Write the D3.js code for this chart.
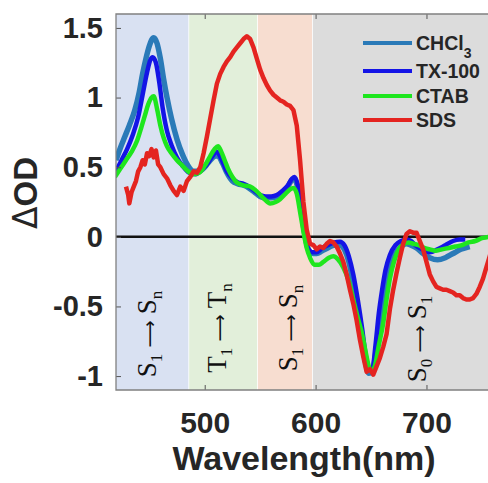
<!DOCTYPE html>
<html>
<head>
<meta charset="utf-8">
<script src="https://cdn.jsdelivr.net/npm/d3@7"></script>
<style>
  body { margin: 0; background: #fff; }
  .tick text { font-family: "Liberation Sans", Arial, sans-serif; font-weight: bold; fill: #262626; }
  .tick line { stroke: #555; }
</style>
</head>
<body>
<div id="chart"></div>
<script>
// values: [wavelength nm, dOD]
const chcl3 = [
  [420, 0.55], [424, 0.64], [428, 0.72], [432, 0.8], [437, 0.91], [441, 1.04], [444, 1.17],
  [447, 1.28], [450, 1.37], [454, 1.43], [457, 1.39], [460, 1.28], [463, 1.13], [466, 1.0],
  [470, 0.85], [475, 0.7], [480, 0.59], [485, 0.51], [490, 0.47], [495, 0.47], [500, 0.5],
  [505, 0.55], [510, 0.58], [512, 0.58], [516, 0.53], [520, 0.46], [525, 0.4], [530, 0.38],
  [535, 0.37], [540, 0.35], [545, 0.32], [550, 0.29], [555, 0.28], [560, 0.28], [565, 0.29],
  [570, 0.32], [575, 0.36], [579, 0.41], [581, 0.41], [584, 0.35], [587, 0.2], [590, 0.03],
  [593, -0.08], [597, -0.12], [601, -0.12], [606, -0.1], [611, -0.08], [617, -0.06], [622, -0.06],
  [626, -0.09], [630, -0.18], [634, -0.34], [638, -0.55], [642, -0.76], [645, -0.9], [648, -0.98],
  [651, -0.97], [654, -0.85], [657, -0.66], [660, -0.48], [664, -0.32], [668, -0.2], [672, -0.12],
  [677, -0.07], [682, -0.05], [686, -0.06], [691, -0.08], [697, -0.12], [703, -0.15], [710, -0.165],
  [717, -0.15], [724, -0.12], [731, -0.09], [739, -0.07]
];

const tx100 = [
  [420, 0.47], [425, 0.55], [430, 0.63], [435, 0.73], [440, 0.86], [444, 1.02], [448, 1.18],
  [451, 1.27], [453, 1.29], [456, 1.25], [459, 1.11], [462, 0.93], [466, 0.76], [470, 0.66],
  [475, 0.57], [480, 0.51], [486, 0.46], [492, 0.45], [497, 0.48], [502, 0.52], [507, 0.58],
  [511, 0.61], [515, 0.56], [520, 0.47], [525, 0.42], [530, 0.39], [535, 0.38], [540, 0.36],
  [545, 0.33], [550, 0.3], [555, 0.29], [560, 0.29], [565, 0.3], [570, 0.33], [575, 0.37],
  [579, 0.42], [581, 0.43], [584, 0.37], [587, 0.22], [590, 0.03], [593, -0.08], [597, -0.11],
  [601, -0.11], [606, -0.08], [611, -0.06], [617, -0.04], [622, -0.035], [626, -0.06], [630, -0.14],
  [634, -0.27], [638, -0.45], [642, -0.66], [645, -0.84], [648, -0.95], [651, -0.96], [654, -0.78],
  [657, -0.55], [660, -0.38], [663, -0.24], [667, -0.13], [672, -0.06], [677, -0.03], [682, -0.02],
  [686, -0.03], [690, -0.06], [696, -0.09], [703, -0.11], [710, -0.09], [717, -0.06], [724, -0.03],
  [730, -0.02], [735, -0.02]
];

const ctab = [
  [419, 0.43], [424, 0.49], [429, 0.55], [434, 0.61], [439, 0.69], [443, 0.79], [446, 0.87],
  [449, 0.95], [452, 1.0], [454, 1.01], [457, 0.92], [460, 0.8], [463, 0.71], [466, 0.65],
  [470, 0.6], [475, 0.55], [480, 0.51], [485, 0.47], [490, 0.45], [495, 0.46], [500, 0.51],
  [505, 0.58], [509, 0.63], [512, 0.65], [515, 0.61], [518, 0.55], [521, 0.49], [525, 0.43],
  [529, 0.39], [535, 0.37], [541, 0.36], [545, 0.34], [549, 0.31], [554, 0.27], [559, 0.24],
  [564, 0.25], [568, 0.27], [573, 0.31], [577, 0.34], [580, 0.35], [583, 0.31], [586, 0.18],
  [589, 0.04], [592, -0.08], [595, -0.15], [599, -0.2], [603, -0.2], [607, -0.18], [612, -0.15],
  [616, -0.14], [620, -0.16], [625, -0.22], [630, -0.32], [634, -0.45], [638, -0.58], [642, -0.7],
  [645, -0.82], [648, -0.93], [651, -0.97], [654, -0.91], [657, -0.78], [661, -0.62], [664, -0.45],
  [667, -0.3], [671, -0.17], [675, -0.09], [680, -0.05], [684, -0.04], [688, -0.05], [693, -0.06],
  [698, -0.08], [703, -0.09], [708, -0.1], [714, -0.09], [720, -0.08], [726, -0.07], [732, -0.06],
  [738, -0.04], [744, -0.03], [750, -0.01], [756, 0.0], [760, 0.01]
];

// SDS trace is noisy, jitter typed as read
const sds = [
  [429, 0.36], [431, 0.3], [432, 0.24], [434, 0.32], [436, 0.36], [438, 0.4], [440, 0.47],
  [442, 0.5], [444, 0.55], [446, 0.52], [448, 0.6], [450, 0.58], [452, 0.63], [454, 0.57],
  [456, 0.62], [458, 0.52], [460, 0.5], [463, 0.45], [466, 0.42], [469, 0.37], [472, 0.33],
  [475, 0.3], [478, 0.36], [481, 0.33], [484, 0.4], [487, 0.43], [490, 0.47], [493, 0.46],
  [496, 0.5], [499, 0.6], [502, 0.72], [505, 0.85], [508, 0.98], [511, 1.1], [514, 1.17],
  [517, 1.22], [520, 1.26], [523, 1.29], [526, 1.33], [529, 1.36], [532, 1.39], [535, 1.42],
  [538, 1.44], [541, 1.42], [544, 1.36], [547, 1.28], [550, 1.2], [553, 1.14], [556, 1.09],
  [559, 1.05], [562, 1.02], [565, 1.0], [568, 0.98], [571, 0.97], [574, 0.95], [577, 0.94],
  [580, 0.91], [583, 0.8], [586, 0.55], [589, 0.25], [592, 0.05], [595, -0.05], [598, -0.06],
  [601, -0.09], [604, -0.07], [607, -0.08], [610, -0.05], [613, -0.03], [616, -0.04], [619, -0.07],
  [622, -0.12], [625, -0.18], [628, -0.27], [631, -0.38], [634, -0.48], [637, -0.6], [640, -0.74],
  [643, -0.86], [646, -0.97], [649, -0.95], [652, -0.99], [655, -0.93], [658, -0.87], [661, -0.79],
  [664, -0.7], [667, -0.52], [670, -0.38], [673, -0.26], [676, -0.15], [679, -0.05], [682, 0.02],
  [685, 0.04], [688, 0.03], [691, 0.03], [694, -0.03], [697, -0.09], [700, -0.18], [703, -0.27],
  [706, -0.32], [709, -0.36], [712, -0.37], [715, -0.38], [718, -0.38], [721, -0.39], [724, -0.4],
  [727, -0.42], [730, -0.42], [733, -0.44], [736, -0.45], [739, -0.45], [742, -0.44], [745, -0.41],
  [748, -0.36], [751, -0.3], [754, -0.22], [757, -0.14], [760, -0.06]
];

const seriesNames = ["CHCl", "TX-100", "CTAB", "SDS"];
const seriesColors = ["#2a7ab8", "#1414e6", "#1ee61e", "#e42420"];

// shaded transition regions
const bandStarts = [420, 486, 548, 597.5];
const bandEnds = [486, 548, 597.5, 760];
const bandColors = ["#d9e1f2", "#e2efda", "#f7ddd0", "#dcdcdc"];
const bandLabels = [["S", "1", "S", "n"], ["T", "1", "T", "n"], ["S", "1", "S", "n"], ["S", "0", "S", "1"]];
const bandLabelX = [156, 226, 297, 426];
const bandLabelY = [334, 328, 328, 339];

const xTicks = [500, 600, 700];
const yTicks = [-1, -0.5, 0, 0.5, 1, 1.5];

const W = 488, H = 483;
const plot = { left: 116, top: 14, right: 493, bottom: 390 };

const x = d3.scaleLinear().domain([420, 760]).range([plot.left, plot.right]);
const y = d3.scaleLinear().domain([-1.1, 1.6]).range([plot.bottom, plot.top]);

const svg = d3.select("#chart").append("svg").attr("width", W).attr("height", H);

svg.append("clipPath").attr("id", "clip")
  .append("rect")
  .attr("x", plot.left).attr("y", plot.top)
  .attr("width", plot.right - plot.left).attr("height", plot.bottom - plot.top);

// Bands
svg.append("g").selectAll("rect")
  .data(bandStarts)
  .enter()
  .append("rect")
  .attr("x", (d) => x(d))
  .attr("y", plot.top)
  .attr("width", (d, i) => x(bandEnds[i]) - x(d) - (i < 3 ? 0.8 : 0))
  .attr("height", plot.bottom - plot.top)
  .attr("fill", (d, i) => bandColors[i]);

// Band labels, rotated
const labels = svg.append("g")
  .selectAll("text")
  .data(bandLabels)
  .enter()
  .append("text")
  .attr("transform", (d, i) => `translate(${bandLabelX[i]},${bandLabelY[i]}) rotate(-90)`)
  .attr("text-anchor", "middle")
  .attr("font-family", "'Liberation Serif', 'Times New Roman', serif")
  .attr("font-size", 27)
  .attr("fill", "#111");

labels.each(function (d) {
  const t = d3.select(this);
  t.append("tspan").text(d[0]);
  t.append("tspan").attr("font-size", 17).attr("dy", 6).text(d[1]);
  t.append("tspan").attr("dy", -6).attr("font-size", 19)
    .attr("font-family", "'DejaVu Sans', sans-serif").text(" \u27F6 ");
  t.append("tspan").text(d[2]);
  t.append("tspan").attr("font-size", 17).attr("dy", 6).text(d[3]);
});

// Zero line
svg.append("line")
  .attr("x1", plot.left).attr("x2", plot.right)
  .attr("y1", y(0)).attr("y2", y(0))
  .attr("stroke", "#111").attr("stroke-width", 2.5);

// Curves
const smooth = d3.line().x((d) => x(d[0])).y((d) => y(d[1])).curve(d3.curveMonotoneX);
const jagged = d3.line().x((d) => x(d[0])).y((d) => y(d[1]));

const curves = svg.append("g").attr("clip-path", "url(#clip)");
[chcl3, tx100, ctab, sds].forEach((data, i) => {
  curves.append("path")
    .datum(data)
    .attr("fill", "none")
    .attr("stroke", seriesColors[i])
    .attr("stroke-width", i === 0 ? 5.5 : 4.5)
    .attr("stroke-linejoin", "round")
    .attr("d", i === 3 ? jagged : smooth);
});

// Axes
const yAxis = svg.append("g")
  .attr("transform", `translate(${plot.left},0)`)
  .call(d3.axisLeft(y).tickValues(yTicks).tickSize(-5).tickPadding(13).tickFormat((d) => String(d)));
yAxis.select(".domain").remove();
yAxis.selectAll("text").attr("font-size", 29);

const xAxis = svg.append("g")
  .attr("transform", `translate(0,${plot.bottom})`)
  .call(d3.axisBottom(x).tickValues(xTicks).tickSize(-5).tickPadding(22).tickFormat((d) => String(d)));
xAxis.select(".domain").remove();
xAxis.selectAll("text").attr("font-size", 30);

svg.append("g")
  .attr("transform", `translate(0,${plot.top})`)
  .call(d3.axisTop(x).tickValues(xTicks).tickSize(-5).tickFormat(""))
  .select(".domain").remove();

// Frame
svg.append("path")
  .attr("d", `M${plot.right},${plot.top}H${plot.left}V${plot.bottom}H${plot.right}`)
  .attr("fill", "none")
  .attr("stroke", "#808080")
  .attr("stroke-width", 1.3);

// Axis titles
svg.append("text")
  .attr("x", 304).attr("y", 470)
  .attr("text-anchor", "middle")
  .attr("font-family", "'Liberation Sans', Arial, sans-serif")
  .attr("font-weight", "bold")
  .attr("font-size", 34)
  .attr("fill", "#262626")
  .text("Wavelength(nm)");

const yTitle = svg.append("text")
  .attr("transform", "translate(37,193) rotate(-90)")
  .attr("text-anchor", "middle")
  .attr("font-family", "'Liberation Sans', Arial, sans-serif")
  .attr("font-size", 33)
  .attr("fill", "#262626");
yTitle.append("tspan").attr("font-family", "'DejaVu Sans', sans-serif").attr("font-weight", "normal").text("\u0394");
yTitle.append("tspan").attr("font-weight", "bold").text("OD");

// Legend
const legendY = [43, 71, 96, 120];
const legend = svg.append("g")
  .selectAll("g")
  .data(seriesNames)
  .enter()
  .append("g")
  .attr("transform", (d, i) => `translate(363,${legendY[i]})`);

legend.append("line")
  .attr("x1", 0).attr("x2", 49)
  .attr("stroke", (d, i) => seriesColors[i])
  .attr("stroke-width", 4);

legend.append("text")
  .attr("x", 53).attr("y", 7)
  .attr("font-family", "'Liberation Sans', Arial, sans-serif")
  .attr("font-weight", "bold")
  .attr("font-size", 19.5)
  .attr("fill", "#262626")
  .each(function (d, i) {
    const t = d3.select(this);
    t.append("tspan").text(d);
    if (i === 0) t.append("tspan").attr("font-size", 14).attr("dy", 8).text("3");
  });
</script>
</body>
</html>
